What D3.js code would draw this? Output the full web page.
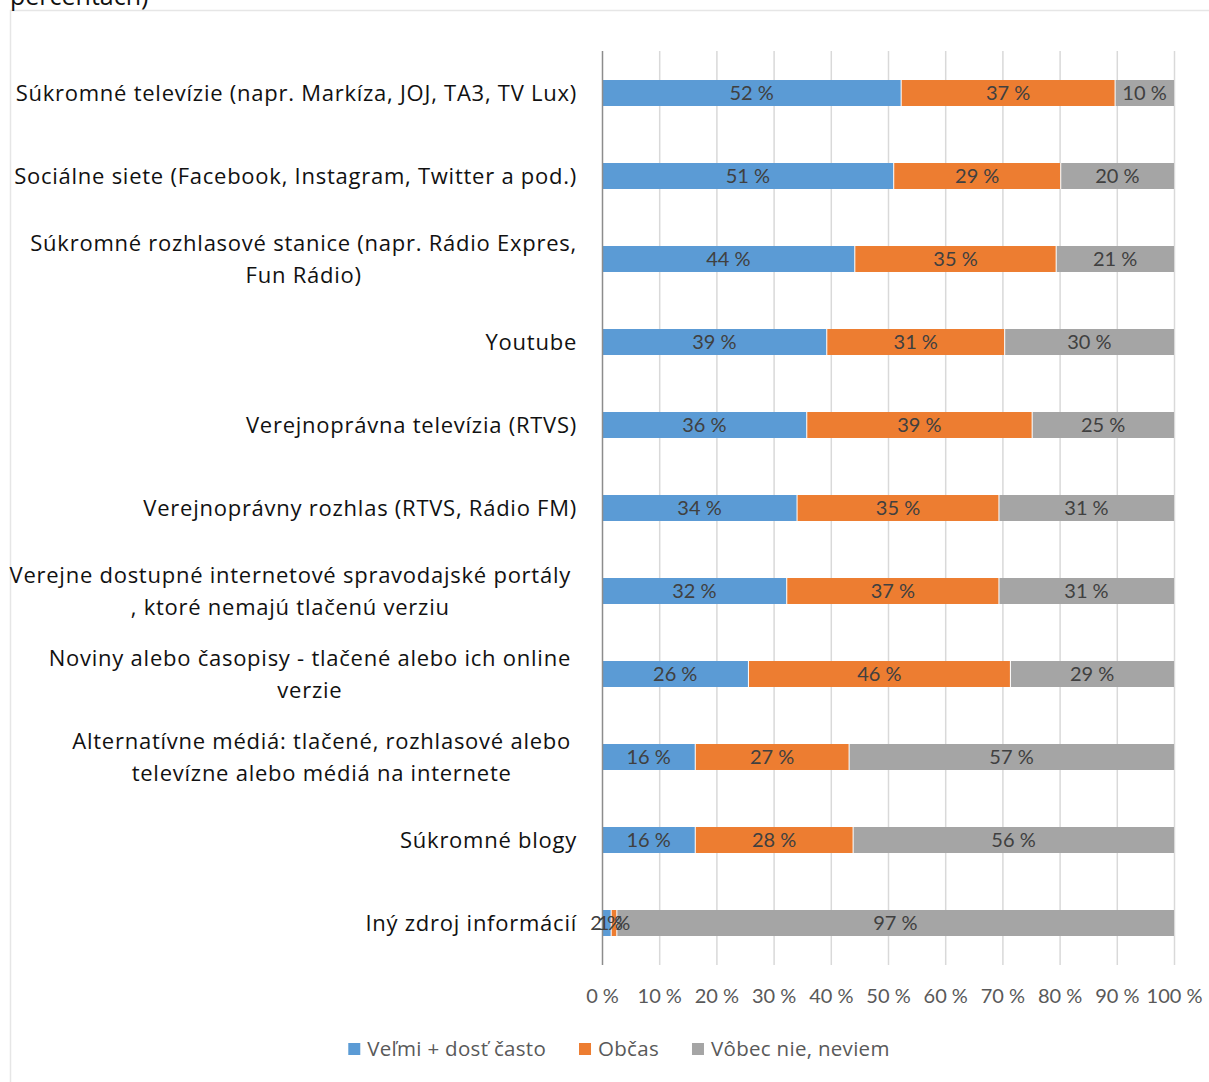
<!DOCTYPE html>
<html><head><meta charset="utf-8">
<script src="https://cdn.jsdelivr.net/npm/d3@7"></script>
<style>html,body{margin:0;padding:0;background:#fff;overflow:hidden}</style>
</head><body>
<svg id="c" width="1209" height="1082"></svg>
<script>
const categories = [
  ["Súkromné televízie (napr. Markíza, JOJ, TA3, TV Lux)"],
  ["Sociálne siete (Facebook, Instagram, Twitter a pod.)"],
  ["Súkromné rozhlasové stanice (napr. Rádio Expres,", "Fun Rádio)"],
  ["Youtube"],
  ["Verejnoprávna televízia (RTVS)"],
  ["Verejnoprávny rozhlas (RTVS, Rádio FM)"],
  ["Verejne dostupné internetové spravodajské portály", ", ktoré nemajú tlačenú verziu"],
  ["Noviny alebo časopisy - tlačené alebo ich online", "verzie"],
  ["Alternatívne médiá: tlačené, rozhlasové alebo", "televízne alebo médiá na internete"],
  ["Súkromné blogy"],
  ["Iný zdroj informácií"]
];
const seriesNames = ["Veľmi + dosť často", "Občas", "Vôbec nie, neviem"];
const often =     [52.3, 51.0, 44.2, 39.3, 35.8, 34.1, 32.3, 25.6, 16.3, 16.3, 1.6];
const sometimes = [37.4, 29.2, 35.2, 31.1, 39.4, 35.3, 37.1, 45.8, 26.9, 27.6, 1.0];
const never =     [10.3, 19.8, 20.6, 29.6, 24.8, 30.6, 30.6, 28.6, 56.8, 56.1, 97.4];
const tickValues = [0,10,20,30,40,50,60,70,80,90,100];
const colors = ["#5B9BD5", "#ED7D31", "#A5A5A5"];

const svg = d3.select("#c");
const font = "Lato, 'Open Sans', sans-serif";
const font2 = "'Open Sans', Lato, sans-serif";

// frame and cut-off title
svg.append("rect").attr("x",10.5).attr("y",10.5).attr("width",1210).attr("height",1080)
  .attr("fill","none").attr("stroke","#e6e6e6").attr("stroke-width",1.5);
svg.append("text").attr("x",10).attr("y",5).attr("font-family",font2).attr("font-size",25)
  .attr("fill","#111").text("percentách)");

const keys = categories.map((c,i)=>i);
const x = d3.scaleLinear().domain([0,100]).range([602,1174]);
const y = d3.scaleBand().domain(keys).range([51.5,964.5]).paddingInner(0.687).paddingOuter(0.3435);

// grid
svg.append("g").selectAll("line").data(tickValues.slice(1)).join("line")
  .attr("x1",d=>x(d)+0.5).attr("x2",d=>x(d)+0.5).attr("y1",51).attr("y2",965)
  .attr("stroke","#d9d9d9").attr("stroke-width",1.5);

const rows = keys.map(i=>({i, vals:[often[i],sometimes[i],never[i]]}));
const segs = [];
rows.forEach(r=>{ let acc=0; r.vals.forEach((v,k)=>{ segs.push({i:r.i,k,v,x0:acc,x1:acc+v}); acc+=v; }); });

svg.append("g").selectAll("rect").data(segs).join("rect")
  .attr("x",d=>x(d.x0)).attr("width",d=>x(d.x1)-x(d.x0))
  .attr("y",d=>y(d.i)).attr("height",y.bandwidth())
  .attr("fill",d=>colors[d.k]);
svg.append("g").selectAll("line").data(segs.filter(d=>d.k>0)).join("line")
  .attr("x1",d=>x(d.x0)).attr("x2",d=>x(d.x0)).attr("y1",d=>y(d.i)).attr("y2",d=>y(d.i)+y.bandwidth())
  .attr("stroke","#fff").attr("stroke-width",1);

// axis line at 0
svg.append("line").attr("x1",602.5).attr("x2",602.5).attr("y1",51).attr("y2",965)
  .attr("stroke","#8c8c8c").attr("stroke-width",1.5);

// data labels
svg.append("g").selectAll("text").data(segs).join("text")
  .attr("x",d=>(x(d.x0)+x(d.x1))/2).attr("y",d=>y(d.i)+y.bandwidth()/2)
  .attr("dy","0.35em").attr("text-anchor","middle")
  .attr("font-family",font).attr("font-size",20).attr("fill","#404040")
  .text(d=>Math.round(d.v)+" %");

// tick labels
const xAxis = d3.axisBottom(x).tickValues(tickValues).tickSize(0).tickFormat(d=>d+" %");
const ax = svg.append("g").attr("transform","translate(0,986)").call(xAxis);
ax.select(".domain").remove();
ax.selectAll("text").attr("font-family",font).attr("font-size",20).attr("fill","#595959").attr("dy","0.71em");

// category labels
const labelRight = 577;
categories.forEach((lines,i)=>{
  const g = svg.append("g");
  const cy = y(i)+y.bandwidth()/2;
  const n = lines.length;
  const ts = lines.map((t,j)=> g.append("text").attr("font-family",font2).attr("font-size",22)
      .attr("letter-spacing",0.75)
      .attr("fill","#111").attr("y",cy+(j-(n-1)/2)*32).attr("dy","0.35em").text(t));
  const w = d3.max(ts,t=>t.node().getComputedTextLength());
  const right = n>1 && i>=6 ? labelRight-6 : labelRight;
  ts.forEach(t=>t.attr("text-anchor","middle").attr("x",right-w/2));
});

// legend
const leg = svg.append("g");
let lx = 0;
seriesNames.forEach((name,k)=>{
  const g = leg.append("g").attr("transform",`translate(${lx},0)`);
  g.append("rect").attr("x",0).attr("y",-6).attr("width",12).attr("height",12).attr("fill",colors[k]);
  const t = g.append("text").attr("x",19).attr("dy","0.35em").attr("font-family",font2).attr("font-size",20.5)
    .attr("letter-spacing",0.3).attr("fill","#595959").text(name);
  lx += 19 + t.node().getComputedTextLength() + 33;
});
const total = lx - 33;
leg.attr("transform",`translate(${619-total/2},1049)`);
</script>
</body></html>
